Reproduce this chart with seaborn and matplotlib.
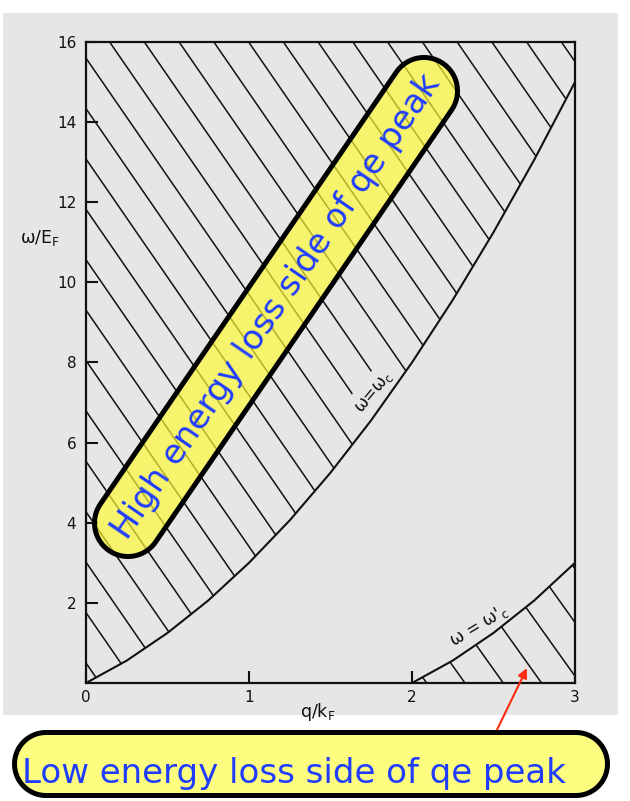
import numpy as np
import matplotlib
matplotlib.use("Agg")
import matplotlib.pyplot as plt
from matplotlib.patches import Polygon, Rectangle
from matplotlib.transforms import Affine2D
import seaborn as sns

# ---- data -------------------------------------------------------------
# upper boundary of the particle-hole continuum, omega = omega_c
q_upper = [0.0, 0.25, 0.5, 0.75, 1.0, 1.25, 1.5, 1.75, 2.0, 2.25, 2.5, 2.75, 3.0]
w_upper = [0.0, 0.56, 1.25, 2.06, 3.0, 4.06, 5.25, 6.56, 8.0, 9.56, 11.25, 13.06, 15.0]
# lower boundary, omega = omega'_c (opens at q = 2 k_F)
q_lower = [2.0, 2.25, 2.5, 2.75, 3.0]
w_lower = [0.0, 0.56, 1.25, 2.06, 3.0]

x_ticks = [0, 1, 2, 3]
x_tick_labels = ["0", "1", "2", "3"]
y_ticks = [2, 4, 6, 8, 10, 12, 14, 16]
y_tick_labels = ["2", "4", "6", "8", "10", "12", "14", "16"]

x_max, y_max = 3.0, 16.0

# ---- style ------------------------------------------------------------
sns.set_theme(style="ticks")
plt.rcParams["font.family"] = ["DejaVu Sans"]
plt.rcParams["mathtext.fontset"] = "dejavusans"

DPI = 100
W, H = 630, 801
fig = plt.figure(figsize=(W / DPI, H / DPI), dpi=DPI)
fig.patch.set_facecolor("white")

paper = "#e6e6e6"
# scanned page background
fig.patches.append(Rectangle((3 / W, 1 - 715 / H), 615 / W, 702 / H,
                             transform=fig.transFigure, facecolor=paper,
                             edgecolor="none", zorder=-10))

ax = fig.add_axes([0.1365, 0.1473, 0.7762, 0.8003])
ax.set_facecolor("none")
ax.set_xlim(0, x_max)
ax.set_ylim(0, y_max)

ink = "#111111"
for s in ax.spines.values():
    s.set_color(ink)
    s.set_linewidth(1.6)

# boundary curves
sns.lineplot(x=q_upper, y=w_upper, color=ink, lw=1.5, ax=ax,
             estimator=None, sort=False, zorder=3)
sns.lineplot(x=q_lower, y=w_lower, color=ink, lw=1.5, ax=ax,
             estimator=None, sort=False, zorder=3)

# regions that get hatched: above omega_c and below omega'_c
upper_region = Polygon(list(zip(q_upper, w_upper)) + [(x_max, y_max), (0, y_max)],
                       closed=True, fill=False, edgecolor="none",
                       transform=ax.transData)
lower_region = Polygon(list(zip(q_lower, w_lower)) + [(x_max, 0)],
                       closed=True, fill=False, edgecolor="none",
                       transform=ax.transData)
ax.add_patch(upper_region)
ax.add_patch(lower_region)

qq = np.array([0.0, x_max])
# hatch in the upper region: omega = c - 5.9 q
for c in 0.5 + 1.258 * np.arange(0, 28):
    ln, = ax.plot(qq, c - 5.9 * qq, color=ink, lw=1.1, zorder=2)
    ln.set_clip_path(upper_region)
# hatch in the lower region: omega = 5.7 (q0 - q)
for q0 in 2.09 + 0.235 * np.arange(0, 7):
    ln, = ax.plot(qq, 5.7 * (q0 - qq), color=ink, lw=1.1, zorder=2)
    ln.set_clip_path(lower_region)

# ticks
ax.set_xticks(x_ticks)
ax.set_xticklabels(x_tick_labels)
ax.set_yticks(y_ticks)
ax.set_yticklabels(y_tick_labels)
ax.tick_params(axis="both", direction="in", length=8.5, width=1.5,
               color=ink, labelcolor=ink, labelsize=11)
ax.tick_params(axis="y", pad=7)
ax.tick_params(axis="x", pad=5)

# axis titles
ax.text(-0.094, 11.1, r"ω/E$_\mathregular{F}$", fontsize=12.5, color=ink,
        ha="center", va="center", transform=ax.get_yaxis_transform())
ax.text(1.42, -0.045, r"q/k$_\mathregular{F}$", fontsize=12.5, color=ink,
        ha="center", va="center", transform=ax.get_xaxis_transform())

# curve labels (a paper-coloured box keeps the hatching clear of the text)
ax.text(1.77, 7.25, r"ω=ω$_\mathregular{c}$", fontsize=12, color=ink,
        rotation=50, ha="center", va="center", zorder=2.5,
        bbox=dict(facecolor=paper, edgecolor="none", pad=5))
ax.text(2.41, 1.42, r"ω = ω'$_\mathregular{c}$", fontsize=12, color=ink,
        rotation=31, ha="center", va="center", zorder=2.5,
        bbox=dict(facecolor=paper, edgecolor="none", pad=1))

# ---- callouts ---------------------------------------------------------
to_disp = Affine2D().scale(1 / DPI) + fig.dpi_scale_trans  # pixel units


def pill_outline(p1, p2, radius, n=40):
    """Stadium shape (two semicircular caps) around the segment p1-p2, in pixels."""
    p1, p2 = np.asarray(p1, float), np.asarray(p2, float)
    a = np.arctan2(*(p2 - p1)[::-1])
    t1 = np.linspace(a + np.pi / 2, a + 3 * np.pi / 2, n)
    t2 = np.linspace(a - np.pi / 2, a + np.pi / 2, n)
    cap1 = p1 + radius * np.c_[np.cos(t1), np.sin(t1)]
    cap2 = p2 + radius * np.c_[np.cos(t2), np.sin(t2)]
    return np.vstack([cap1, cap2])


blue = "#1f3cff"
border = 5 / DPI * 72  # 5 px in points

# diagonal pill over the high-loss region
c1 = np.array([128.0, H - 523.0])
c2 = np.array([424.0, H - 91.0])
mid = (c1 + c2) / 2
ang = np.degrees(np.arctan2(*(c2 - c1)[::-1]))
fig.patches.append(Polygon(pill_outline(c1, c2, 33.5), closed=True,
                           facecolor=(1.0, 0.98, 0.2, 0.68), edgecolor="black",
                           linewidth=border, joinstyle="round",
                           transform=to_disp, zorder=20))
fig.text(mid[0] / W, mid[1] / H, "High energy loss side of qe peak",
         rotation=ang, rotation_mode="anchor", ha="center", va="center",
         color=blue, fontsize=24.5, zorder=21)

# horizontal pill at the bottom
fig.patches.append(Polygon(pill_outline((46, H - 764), (576, H - 764), 31.5),
                           closed=True, facecolor="#fdfd80", edgecolor="black",
                           linewidth=border, joinstyle="round",
                           transform=to_disp, zorder=20))
fig.text(22 / W, (H - 783) / H, "Low energy loss side of qe peak",
         ha="left", va="baseline", color=blue, fontsize=24.5, zorder=21)

# arrow from the bottom callout into the low-loss region
ax.annotate("", xy=(2.705, 0.37), xycoords="data",
            xytext=(493, H - 738), textcoords="figure pixels",
            arrowprops=dict(arrowstyle="-|>", color="#ff2a12", lw=1.5,
                            mutation_scale=14, shrinkA=0, shrinkB=0),
            zorder=22, annotation_clip=False)

fig.savefig("out.png", dpi=DPI)
